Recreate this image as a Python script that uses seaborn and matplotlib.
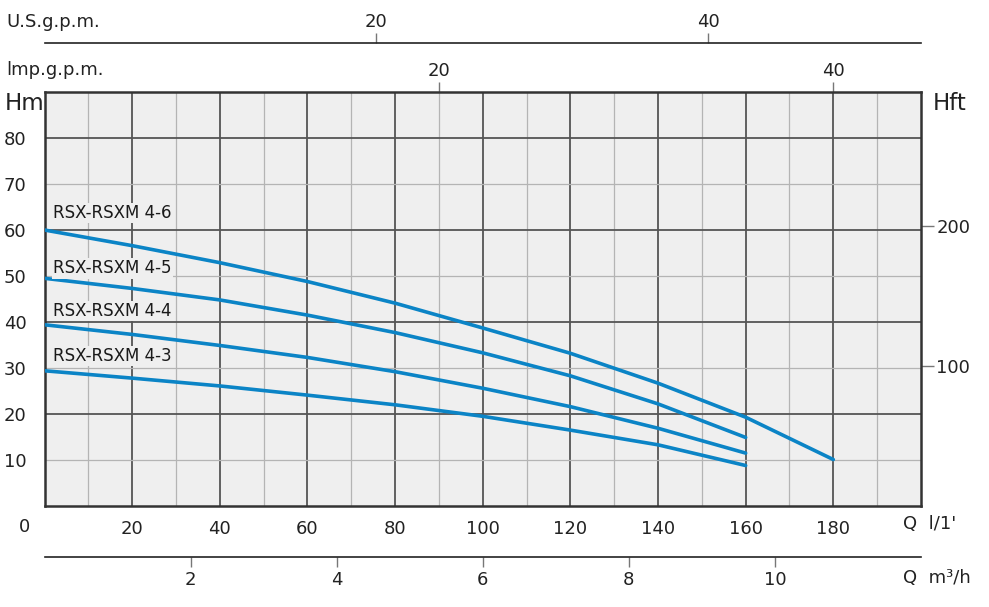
import pandas as pd
import seaborn as sns
import matplotlib.pyplot as plt
from matplotlib.ticker import FixedLocator, NullFormatter

# flow in l/min, head in m
flow = [0, 20, 40, 60, 80, 100, 120, 140, 160, 180]
head_46 = [60.0, 56.6, 52.9, 48.8, 44.1, 38.7, 33.2, 26.7, 19.3, 10.1]
head_45 = [49.5, 47.3, 44.8, 41.5, 37.7, 33.3, 28.3, 22.2, 14.9]
head_44 = [39.4, 37.3, 34.9, 32.3, 29.2, 25.6, 21.6, 16.9, 11.5]
head_43 = [29.4, 27.8, 26.1, 24.1, 22.0, 19.5, 16.5, 13.3, 8.8]

models = ["RSX-RSXM 4-6", "RSX-RSXM 4-5", "RSX-RSXM 4-4", "RSX-RSXM 4-3"]
heads = [head_46, head_45, head_44, head_43]
label_y = [63.7, 51.7, 42.4, 32.6]

us_ticks = [20, 40]
imp_ticks = [20, 40]
m3h_ticks = [2, 4, 6, 8, 10]
ft_ticks = [100, 200]

rows = []
for m, h in zip(models, heads):
    for q, v in zip(flow, h):
        rows.append({"model": m, "Q": q, "H": v})
df = pd.DataFrame(rows)

sns.set_theme(style="white")
plt.rcParams["font.family"] = ["DejaVu Sans"]

blue = "#0b84c6"
dark = "#222222"

fig = plt.figure(figsize=(9.89, 6.07), dpi=100)
ax = fig.add_axes([0.045, 0.1664, 0.8862, 0.682])
ax.set_facecolor("#efefef")

sns.lineplot(data=df, x="Q", y="H", hue="model", palette=[blue] * 4,
             linewidth=2.6, legend=False, ax=ax, zorder=3)

ax.set_xlim(0, 200)
ax.set_ylim(0, 90)
ax.xaxis.set_major_locator(FixedLocator(list(range(20, 200, 20))))
ax.xaxis.set_minor_locator(FixedLocator(list(range(10, 200, 20))))
ax.yaxis.set_major_locator(FixedLocator([20, 40, 60, 80]))
ax.yaxis.set_minor_locator(FixedLocator([10, 30, 50, 70]))
ax.yaxis.set_minor_formatter(lambda v, p: f"{v:.0f}")
ax.xaxis.set_minor_formatter(NullFormatter())
ax.grid(which="major", color="#555555", linewidth=1.3)
ax.grid(which="minor", color="#b4b4b4", linewidth=0.9)
ax.set_axisbelow(True)
ax.tick_params(which="both", length=0, labelsize=13, colors=dark, pad=10)
ax.tick_params(axis="y", which="both", pad=13)
ax.set_xlabel("")
ax.set_ylabel("")
for s in ax.spines.values():
    s.set_color("#333333")
    s.set_linewidth(1.8)

for m, ly in zip(models, label_y):
    ax.text(2, ly, m, fontsize=12, color="#1a1a1a", va="center", ha="left",
            zorder=4, bbox=dict(facecolor="#efefef", edgecolor="none", pad=1))

# Imp. gallons on top spine
imp = ax.secondary_xaxis("top", functions=(lambda x: x / 4.5, lambda x: x * 4.5))
imp.xaxis.set_major_locator(FixedLocator(imp_ticks))
imp.tick_params(length=7, width=1, color="#777777", labelsize=13, labelcolor=dark, pad=2)
imp.spines["top"].set_visible(False)

# US gallons line above
us = ax.secondary_xaxis(1.1184, functions=(lambda x: x / 3.785, lambda x: x * 3.785))
us.xaxis.set_major_locator(FixedLocator(us_ticks))
us.tick_params(length=7, width=1, color="#777777", labelsize=13, labelcolor=dark, pad=2)
us.spines["top"].set_color(dark)
us.spines["top"].set_linewidth(1.2)

# m3/h line below
mh = ax.secondary_xaxis(-0.1232, functions=(lambda x: x * 0.06, lambda x: x / 0.06))
mh.xaxis.set_major_locator(FixedLocator(m3h_ticks))
mh.tick_params(length=7, width=1, color="#777777", labelsize=13, labelcolor=dark, pad=3)
mh.spines["bottom"].set_color(dark)
mh.spines["bottom"].set_linewidth(1.2)

# feet on the right
ft = ax.secondary_yaxis("right", functions=(lambda y: y / 0.3048, lambda y: y * 0.3048))
ft.yaxis.set_major_locator(FixedLocator(ft_ticks))
ft.tick_params(length=9, width=1, color="#777777", labelsize=13, labelcolor=dark, pad=2)
ft.spines["right"].set_visible(False)

fig.text(6 / 989, 1 - 22 / 607, "U.S.g.p.m.", fontsize=13, color=dark, va="center")
fig.text(6 / 989, 1 - 70 / 607, "lmp.g.p.m.", fontsize=13, color=dark, va="center")
fig.text(5 / 989, 1 - 103 / 607, "Hm", fontsize=16.5, color=dark, va="center")
fig.text(933 / 989, 1 - 104 / 607, "Hft", fontsize=16.5, color=dark, va="center")
fig.text(25 / 989, 1 - 527 / 607, "0", fontsize=13, color=dark, va="center", ha="center")
fig.text(903 / 989, 1 - 524 / 607, "Q  l/1'", fontsize=13, color=dark, va="center")
fig.text(903 / 989, 1 - 578 / 607, "Q  m³/h", fontsize=13, color=dark, va="center")

fig.savefig("out.png", dpi=100, facecolor="white")
